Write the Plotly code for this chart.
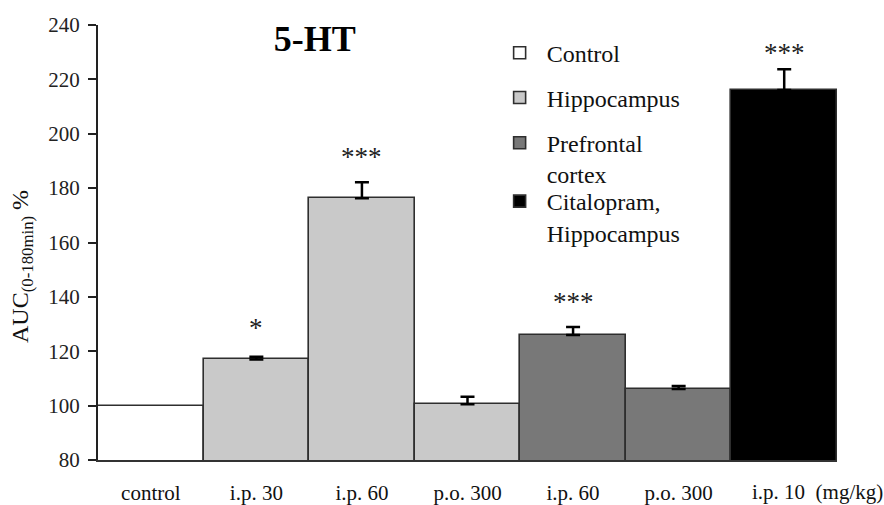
import plotly.graph_objects as go

# Dose labels along the x axis
doses = ["control", "i.p. 30", "i.p. 60", "p.o. 300", "i.p. 60", "p.o. 300", "i.p. 10"]
last_dose_note = "i.p. 10&nbsp;&nbsp;(mg/kg)"
# Group each bar belongs to
groups = ["Control", "Hippocampus", "Hippocampus", "Hippocampus",
          "Prefrontal<br>cortex", "Prefrontal<br>cortex", "Citalopram,<br>Hippocampus"]
# AUC(0-180 min) as % of control, with SEM
auc = [100, 117.0, 176.3, 100.5, 126.0, 106.1, 216.1]
sem = [0, 1.0, 5.9, 2.8, 2.9, 1.1, 7.6]
# Significance marks
stars = ["", "*", "***", "", "***", "", "***"]
y_ticks = [80, 100, 120, 140, 160, 180, 200, 220, 240]

FONT = "Liberation Serif"
fills = {
    "Control": "#ffffff",
    "Hippocampus": "#c9c9c9",
    "Prefrontal<br>cortex": "#787878",
    "Citalopram,<br>Hippocampus": "#000000",
}
legend_ids = {
    "Control": "legend",
    "Hippocampus": "legend2",
    "Prefrontal<br>cortex": "legend3",
    "Citalopram,<br>Hippocampus": "legend4",
}
legend_y = {"legend": 0.987, "legend2": 0.884, "legend3": 0.780, "legend4": 0.646}
star_lift = [0, 29, 25, 0, 25, 0, 16]

fig = go.Figure()
for g in fills:
    idx = [i for i, gg in enumerate(groups) if gg == g]
    fig.add_trace(go.Bar(
        x=idx,
        y=[auc[i] for i in idx],
        name=g,
        width=1.0,
        marker=dict(color=fills[g], line=dict(color="#2e2e2e", width=1.6)),
        error_y=dict(
            type="data", symmetric=False,
            array=[sem[i] for i in idx],
            arrayminus=[0 for _ in idx],
            color="#000000", thickness=2.5, width=7,
            visible=(g != "Control"),
        ),
        legend=legend_ids[g],
        hoverinfo="skip",
    ))

for i, s in enumerate(stars):
    if s:
        fig.add_annotation(
            x=i, y=auc[i] + sem[i], xref="x", yref="y",
            text=s, showarrow=False, yanchor="middle",
            yshift=star_lift[i],
            font=dict(family=FONT, size=27, color="#222"),
        )

# Last dose label, written with its unit
fig.add_annotation(
    x=len(doses) - 1, y=0, xref="x", yref="paper",
    text=last_dose_note, showarrow=False, xanchor="left", yanchor="middle",
    xshift=-34, yshift=-32,
    font=dict(family=FONT, size=21, color="#111"),
)

# Y axis title
fig.add_annotation(
    x=0, y=0.4437, xref="paper", yref="paper",
    text="AUC<sub>(0-180min)</sub> %", textangle=-90,
    showarrow=False, xanchor="center", yanchor="middle", xshift=-76,
    font=dict(family=FONT, size=24, color="#111"),
)

legend_common = dict(
    x=0.534, xanchor="left", yanchor="top", valign="top",
    bgcolor="rgba(0,0,0,0)", borderwidth=0, itemwidth=44,
    font=dict(family=FONT, size=24, color="#111"),
    itemclick=False, itemdoubleclick=False,
)
legends = {k: dict(legend_common, y=v) for k, v in legend_y.items()}

fig.update_layout(
    width=884, height=505,
    margin=dict(l=98, r=47, t=25, b=45, autoexpand=False),
    plot_bgcolor="white", paper_bgcolor="white",
    barmode="overlay", bargap=0,
    showlegend=True,
    title=dict(text="<b>5-HT</b>", x=0.356, xanchor="center",
               y=1 - 38 / 505, yanchor="middle",
               font=dict(family=FONT, size=36, color="#000")),
    xaxis=dict(
        range=[-0.5, 6.5], automargin=False,
        tickmode="array", tickvals=list(range(len(doses) - 1)), ticktext=doses[:-1],
        showline=True, linecolor="#333", linewidth=2,
        ticks="", ticklabelstandoff=13,
        showgrid=False, zeroline=False,
        tickfont=dict(family=FONT, size=21, color="#111"),
    ),
    yaxis=dict(
        range=[80, 240], tickmode="array", tickvals=y_ticks, automargin=False,
        showline=True, linecolor="#222", linewidth=2,
        ticks="outside", ticklen=8, tickwidth=2, tickcolor="#222",
        ticklabelstandoff=4,
        showgrid=False, zeroline=False,
        tickfont=dict(family=FONT, size=21, color="#222"),
    ),
    **legends,
)

fig.write_html("out.html")
